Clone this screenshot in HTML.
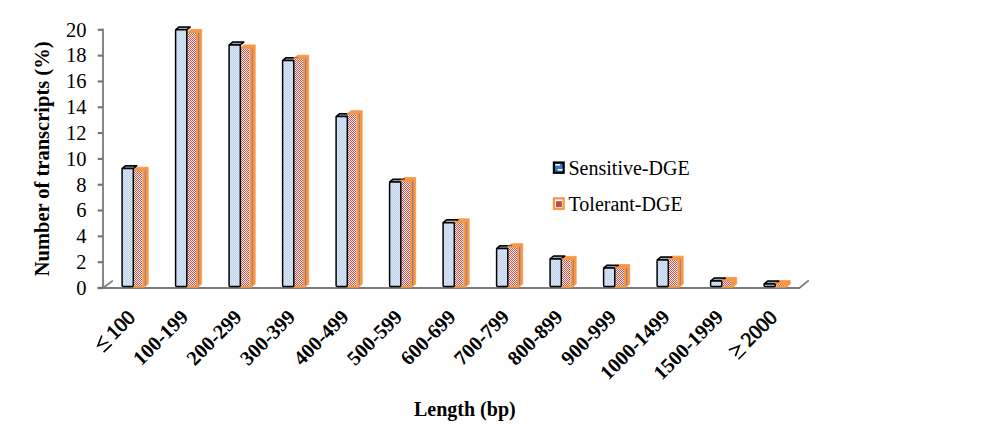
<!DOCTYPE html>
<html><head><meta charset="utf-8"><title>chart</title>
<style>
html,body{margin:0;padding:0;background:#fff;}
body{width:1000px;height:440px;overflow:hidden;font-family:"Liberation Serif",serif;}
svg{display:block}
text{font-family:"Liberation Serif",serif;fill:#000}
.b{font-weight:bold}
</style></head><body>
<svg width="1000" height="440" viewBox="0 0 1000 440">
<defs>
<pattern id="hat" width="2" height="2" patternUnits="userSpaceOnUse">
<rect width="2" height="2" fill="#fbeeee"/>
<rect x="0" y="0" width="1" height="1" fill="#c4544f"/>
<rect x="1" y="1" width="1" height="1" fill="#c4544f"/>
</pattern>
<pattern id="dot" width="2" height="2" patternUnits="userSpaceOnUse">
<rect width="2" height="2" fill="#bfd3ec"/>
<rect x="0" y="0" width="1" height="1" fill="#e0eaf7"/>
<rect x="1" y="1" width="1" height="1" fill="#d6e3f4"/>
</pattern>
<linearGradient id="cap" x1="0" y1="0" x2="0" y2="1">
<stop offset="0" stop-color="#5f6f86"/><stop offset="1" stop-color="#c9d6e8"/>
</linearGradient>
</defs>
<rect width="1000" height="440" fill="#fff"/>

<g stroke="#7b7b7b" stroke-width="1.8" fill="none" stroke-linecap="butt">
<path d="M103.0 28.75 V288.2"/>
<path d="M97.7 288 H799.3 L808.8 280.4"/>
<path d="M97.7 288 H103.0" stroke-width="2.4" stroke="#747474"/>
<path d="M103.0 288 L112.8 280.6"/>
<path d="M97.7 262.18 H103.0" stroke-width="2.1" stroke="#747474"/>
<path d="M97.7 236.36 H103.0" stroke-width="2.1" stroke="#747474"/>
<path d="M97.7 210.54 H103.0" stroke-width="2.1" stroke="#747474"/>
<path d="M97.7 184.72 H103.0" stroke-width="2.1" stroke="#747474"/>
<path d="M97.7 158.90 H103.0" stroke-width="2.1" stroke="#747474"/>
<path d="M97.7 133.08 H103.0" stroke-width="2.1" stroke="#747474"/>
<path d="M97.7 107.26 H103.0" stroke-width="2.1" stroke="#747474"/>
<path d="M97.7 81.44 H103.0" stroke-width="2.1" stroke="#747474"/>
<path d="M97.7 55.62 H103.0" stroke-width="2.1" stroke="#747474"/>
<path d="M97.7 29.80 H103.0" stroke-width="2.1" stroke="#747474"/>
</g>
<text x="86.5" y="294.80" font-size="20.5" text-anchor="end">0</text>
<text x="86.5" y="268.98" font-size="20.5" text-anchor="end">2</text>
<text x="86.5" y="243.16" font-size="20.5" text-anchor="end">4</text>
<text x="86.5" y="217.34" font-size="20.5" text-anchor="end">6</text>
<text x="86.5" y="191.52" font-size="20.5" text-anchor="end">8</text>
<text x="86.5" y="165.70" font-size="20.5" text-anchor="end">10</text>
<text x="86.5" y="139.88" font-size="20.5" text-anchor="end">12</text>
<text x="86.5" y="114.06" font-size="20.5" text-anchor="end">14</text>
<text x="86.5" y="88.24" font-size="20.5" text-anchor="end">16</text>
<text x="86.5" y="62.42" font-size="20.5" text-anchor="end">18</text>
<text x="86.5" y="36.60" font-size="20.5" text-anchor="end">20</text>
<path d="M133.60 170.15 L137.10 167.25 H148.20 V284.10 L144.50 287.00 V170.15 Z" fill="#f79646" stroke="#f79646" stroke-width="0.8" stroke-linejoin="round"/>
<path d="M145.10 170.45 V285.00" stroke="#9a7880" stroke-width="1.2" fill="none"/>
<path d="M122.10 168.60 L125.60 165.70 H136.80 L133.30 168.60 Z" fill="url(#cap)" stroke="#000" stroke-width="1.5" stroke-linejoin="round"/>
<rect x="133.60" y="170.15" width="8.90" height="116.85" fill="url(#hat)"/>
<path d="M133.10 170.15 H143.50 V286.70 H133.10" fill="none" stroke="#f79646" stroke-width="2.0"/>
<rect x="122.10" y="168.60" width="11.20" height="117.90" rx="1" fill="url(#dot)" stroke="#000" stroke-width="1.5"/>
<path d="M187.10 32.35 L190.60 29.45 H201.70 V284.10 L198.00 287.00 V32.35 Z" fill="#f79646" stroke="#f79646" stroke-width="0.8" stroke-linejoin="round"/>
<path d="M198.60 32.65 V285.00" stroke="#9a7880" stroke-width="1.2" fill="none"/>
<path d="M175.60 29.80 L179.10 26.90 H190.30 L186.80 29.80 Z" fill="url(#cap)" stroke="#000" stroke-width="1.5" stroke-linejoin="round"/>
<rect x="187.10" y="32.35" width="8.90" height="254.65" fill="url(#hat)"/>
<path d="M186.60 32.35 H197.00 V286.70 H186.60" fill="none" stroke="#f79646" stroke-width="2.0"/>
<rect x="175.60" y="29.80" width="11.20" height="256.70" rx="1" fill="url(#dot)" stroke="#000" stroke-width="1.5"/>
<path d="M240.60 47.85 L244.10 44.95 H255.20 V284.10 L251.50 287.00 V47.85 Z" fill="#f79646" stroke="#f79646" stroke-width="0.8" stroke-linejoin="round"/>
<path d="M252.10 48.15 V285.00" stroke="#9a7880" stroke-width="1.2" fill="none"/>
<path d="M229.10 45.00 L232.60 42.10 H243.80 L240.30 45.00 Z" fill="url(#cap)" stroke="#000" stroke-width="1.5" stroke-linejoin="round"/>
<rect x="240.60" y="47.85" width="8.90" height="239.15" fill="url(#hat)"/>
<path d="M240.10 47.85 H250.50 V286.70 H240.10" fill="none" stroke="#f79646" stroke-width="2.0"/>
<rect x="229.10" y="45.00" width="11.20" height="241.50" rx="1" fill="url(#dot)" stroke="#000" stroke-width="1.5"/>
<path d="M294.10 58.15 L297.60 55.25 H308.70 V284.10 L305.00 287.00 V58.15 Z" fill="#f79646" stroke="#f79646" stroke-width="0.8" stroke-linejoin="round"/>
<path d="M305.60 58.45 V285.00" stroke="#9a7880" stroke-width="1.2" fill="none"/>
<path d="M282.60 60.60 L286.10 57.70 H297.30 L293.80 60.60 Z" fill="url(#cap)" stroke="#000" stroke-width="1.5" stroke-linejoin="round"/>
<rect x="294.10" y="58.15" width="8.90" height="228.85" fill="url(#hat)"/>
<path d="M293.60 58.15 H304.00 V286.70 H293.60" fill="none" stroke="#f79646" stroke-width="2.0"/>
<rect x="282.60" y="60.60" width="11.20" height="225.90" rx="1" fill="url(#dot)" stroke="#000" stroke-width="1.5"/>
<path d="M347.60 113.55 L351.10 110.65 H362.20 V284.10 L358.50 287.00 V113.55 Z" fill="#f79646" stroke="#f79646" stroke-width="0.8" stroke-linejoin="round"/>
<path d="M359.10 113.85 V285.00" stroke="#9a7880" stroke-width="1.2" fill="none"/>
<path d="M336.10 116.60 L339.60 113.70 H350.80 L347.30 116.60 Z" fill="url(#cap)" stroke="#000" stroke-width="1.5" stroke-linejoin="round"/>
<rect x="347.60" y="113.55" width="8.90" height="173.45" fill="url(#hat)"/>
<path d="M347.10 113.55 H357.50 V286.70 H347.10" fill="none" stroke="#f79646" stroke-width="2.0"/>
<rect x="336.10" y="116.60" width="11.20" height="169.90" rx="1" fill="url(#dot)" stroke="#000" stroke-width="1.5"/>
<path d="M401.10 180.45 L404.60 177.55 H415.70 V284.10 L412.00 287.00 V180.45 Z" fill="#f79646" stroke="#f79646" stroke-width="0.8" stroke-linejoin="round"/>
<path d="M412.60 180.75 V285.00" stroke="#9a7880" stroke-width="1.2" fill="none"/>
<path d="M389.60 182.10 L393.10 179.20 H404.30 L400.80 182.10 Z" fill="url(#cap)" stroke="#000" stroke-width="1.5" stroke-linejoin="round"/>
<rect x="401.10" y="180.45" width="8.90" height="106.55" fill="url(#hat)"/>
<path d="M400.60 180.45 H411.00 V286.70 H400.60" fill="none" stroke="#f79646" stroke-width="2.0"/>
<rect x="389.60" y="182.10" width="11.20" height="104.40" rx="1" fill="url(#dot)" stroke="#000" stroke-width="1.5"/>
<path d="M454.60 221.75 L458.10 218.85 H469.20 V284.10 L465.50 287.00 V221.75 Z" fill="#f79646" stroke="#f79646" stroke-width="0.8" stroke-linejoin="round"/>
<path d="M466.10 222.05 V285.00" stroke="#9a7880" stroke-width="1.2" fill="none"/>
<path d="M443.10 222.70 L446.60 219.80 H457.80 L454.30 222.70 Z" fill="url(#cap)" stroke="#000" stroke-width="1.5" stroke-linejoin="round"/>
<rect x="454.60" y="221.75" width="8.90" height="65.25" fill="url(#hat)"/>
<path d="M454.10 221.75 H464.50 V286.70 H454.10" fill="none" stroke="#f79646" stroke-width="2.0"/>
<rect x="443.10" y="222.70" width="11.20" height="63.80" rx="1" fill="url(#dot)" stroke="#000" stroke-width="1.5"/>
<path d="M508.10 246.55 L511.60 243.65 H522.70 V284.10 L519.00 287.00 V246.55 Z" fill="#f79646" stroke="#f79646" stroke-width="0.8" stroke-linejoin="round"/>
<path d="M519.60 246.85 V285.00" stroke="#9a7880" stroke-width="1.2" fill="none"/>
<path d="M496.60 248.60 L500.10 245.70 H511.30 L507.80 248.60 Z" fill="url(#cap)" stroke="#000" stroke-width="1.5" stroke-linejoin="round"/>
<rect x="508.10" y="246.55" width="8.90" height="40.45" fill="url(#hat)"/>
<path d="M507.60 246.55 H518.00 V286.70 H507.60" fill="none" stroke="#f79646" stroke-width="2.0"/>
<rect x="496.60" y="248.60" width="11.20" height="37.90" rx="1" fill="url(#dot)" stroke="#000" stroke-width="1.5"/>
<path d="M561.60 259.35 L565.10 256.45 H576.20 V284.10 L572.50 287.00 V259.35 Z" fill="#f79646" stroke="#f79646" stroke-width="0.8" stroke-linejoin="round"/>
<path d="M573.10 259.65 V285.00" stroke="#9a7880" stroke-width="1.2" fill="none"/>
<path d="M550.10 258.90 L553.60 256.00 H564.80 L561.30 258.90 Z" fill="url(#cap)" stroke="#000" stroke-width="1.5" stroke-linejoin="round"/>
<rect x="561.60" y="259.35" width="8.90" height="27.65" fill="url(#hat)"/>
<path d="M561.10 259.35 H571.50 V286.70 H561.10" fill="none" stroke="#f79646" stroke-width="2.0"/>
<rect x="550.10" y="258.90" width="11.20" height="27.60" rx="1" fill="url(#dot)" stroke="#000" stroke-width="1.5"/>
<path d="M615.10 267.45 L618.60 264.55 H629.70 V284.10 L626.00 287.00 V267.45 Z" fill="#f79646" stroke="#f79646" stroke-width="0.8" stroke-linejoin="round"/>
<path d="M626.60 267.75 V285.00" stroke="#9a7880" stroke-width="1.2" fill="none"/>
<path d="M603.60 268.10 L607.10 265.20 H618.30 L614.80 268.10 Z" fill="url(#cap)" stroke="#000" stroke-width="1.5" stroke-linejoin="round"/>
<rect x="615.10" y="267.45" width="8.90" height="19.55" fill="url(#hat)"/>
<path d="M614.60 267.45 H625.00 V286.70 H614.60" fill="none" stroke="#f79646" stroke-width="2.0"/>
<rect x="603.60" y="268.10" width="11.20" height="18.40" rx="1" fill="url(#dot)" stroke="#000" stroke-width="1.5"/>
<path d="M668.60 259.05 L672.10 256.15 H683.20 V284.10 L679.50 287.00 V259.05 Z" fill="#f79646" stroke="#f79646" stroke-width="0.8" stroke-linejoin="round"/>
<path d="M680.10 259.35 V285.00" stroke="#9a7880" stroke-width="1.2" fill="none"/>
<path d="M657.10 260.00 L660.60 257.10 H671.80 L668.30 260.00 Z" fill="url(#cap)" stroke="#000" stroke-width="1.5" stroke-linejoin="round"/>
<rect x="668.60" y="259.05" width="8.90" height="27.95" fill="url(#hat)"/>
<path d="M668.10 259.05 H678.50 V286.70 H668.10" fill="none" stroke="#f79646" stroke-width="2.0"/>
<rect x="657.10" y="260.00" width="11.20" height="26.50" rx="1" fill="url(#dot)" stroke="#000" stroke-width="1.5"/>
<path d="M722.10 280.35 L725.60 277.45 H736.70 V284.10 L733.00 287.00 V280.35 Z" fill="#f79646" stroke="#f79646" stroke-width="0.8" stroke-linejoin="round"/>
<path d="M710.60 281.00 L714.10 278.10 H725.30 L721.80 281.00 Z" fill="url(#cap)" stroke="#000" stroke-width="1.5" stroke-linejoin="round"/>
<rect x="722.10" y="280.35" width="8.90" height="6.65" fill="url(#hat)"/>
<path d="M721.60 280.35 H732.00 V286.70 H721.60" fill="none" stroke="#f79646" stroke-width="2.0"/>
<rect x="710.60" y="281.00" width="11.20" height="5.50" rx="1" fill="url(#dot)" stroke="#000" stroke-width="1.5"/>
<path d="M775.60 283.35 L779.10 280.45 H790.20 V284.10 L786.50 287.00 V283.35 Z" fill="#f79646" stroke="#f79646" stroke-width="0.8" stroke-linejoin="round"/>
<path d="M764.10 284.00 L767.60 281.10 H778.80 L775.30 284.00 Z" fill="url(#cap)" stroke="#000" stroke-width="1.5" stroke-linejoin="round"/>
<rect x="775.60" y="283.35" width="8.90" height="3.65" fill="url(#hat)"/>
<path d="M775.10 283.35 H785.50 V286.70 H775.10" fill="none" stroke="#f79646" stroke-width="2.0"/>
<rect x="764.10" y="284.00" width="11.20" height="2.50" rx="1" fill="url(#dot)" stroke="#000" stroke-width="1.5"/>
<text class="b" font-size="20.6" text-anchor="end" style="font-weight:normal" stroke="#000" stroke-width="0.7" transform="translate(136.40,318.60) rotate(-45)">100</text>
<text class="b" font-size="20.5" text-anchor="end" transform="translate(189.50,318.20) rotate(-45)">100-199</text>
<text class="b" font-size="20.5" text-anchor="end" transform="translate(243.00,318.20) rotate(-45)">200-299</text>
<text class="b" font-size="20.5" text-anchor="end" transform="translate(296.50,318.20) rotate(-45)">300-399</text>
<text class="b" font-size="20.5" text-anchor="end" transform="translate(350.00,318.20) rotate(-45)">400-499</text>
<text class="b" font-size="20.5" text-anchor="end" transform="translate(403.50,318.20) rotate(-45)">500-599</text>
<text class="b" font-size="20.5" text-anchor="end" transform="translate(457.00,318.20) rotate(-45)">600-699</text>
<text class="b" font-size="20.5" text-anchor="end" transform="translate(510.50,318.20) rotate(-45)">700-799</text>
<text class="b" font-size="20.5" text-anchor="end" transform="translate(564.00,318.20) rotate(-45)">800-899</text>
<text class="b" font-size="20.5" text-anchor="end" transform="translate(617.50,318.20) rotate(-45)">900-999</text>
<text class="b" font-size="20.5" text-anchor="end" transform="translate(671.00,318.20) rotate(-45)">1000-1499</text>
<text class="b" font-size="20.5" text-anchor="end" transform="translate(724.50,318.20) rotate(-45)">1500-1999</text>
<text class="b" font-size="20.6" text-anchor="end" style="font-weight:normal" stroke="#000" stroke-width="0.7" transform="translate(778.40,318.60) rotate(-45)">2000</text>
<g fill="none" stroke="#000" stroke-width="1.6" stroke-linecap="butt" stroke-linejoin="miter">
<path d="M101.9 335.5 L97.8 345.9 L108.4 342"/><path d="M103.6 352.2 L111.8 344.4"/>
<path d="M728.8 350 L739.4 345.9 L735.3 356.1"/><path d="M738.4 359.2 L745.9 351.7"/>
</g>
<text class="b" font-size="20.5" text-anchor="middle" transform="translate(49,158.9) rotate(-90)">Number of transcripts (%)</text>
<text class="b" font-size="20" x="414" y="416">Length (bp)</text>
<rect x="553.95" y="162.55" width="9.7" height="10.2" fill="#3a78c9" stroke="#000" stroke-width="2.3"/>
<rect x="555.3" y="164.0" width="4.7" height="1.6" fill="#fff"/><rect x="557.8" y="169.0" width="4.7" height="1.7" fill="#fff"/>
<text x="568.5" y="174.8" font-size="20">Sensitive-DGE</text>
<rect x="553.95" y="198.35" width="9.7" height="10.4" fill="#fff" stroke="#f79646" stroke-width="2.3"/>
<rect x="556" y="201.2" width="5.9" height="5.8" fill="#be4b48"/>
<text x="568.5" y="211" font-size="20">Tolerant-DGE</text>
</svg></body></html>
